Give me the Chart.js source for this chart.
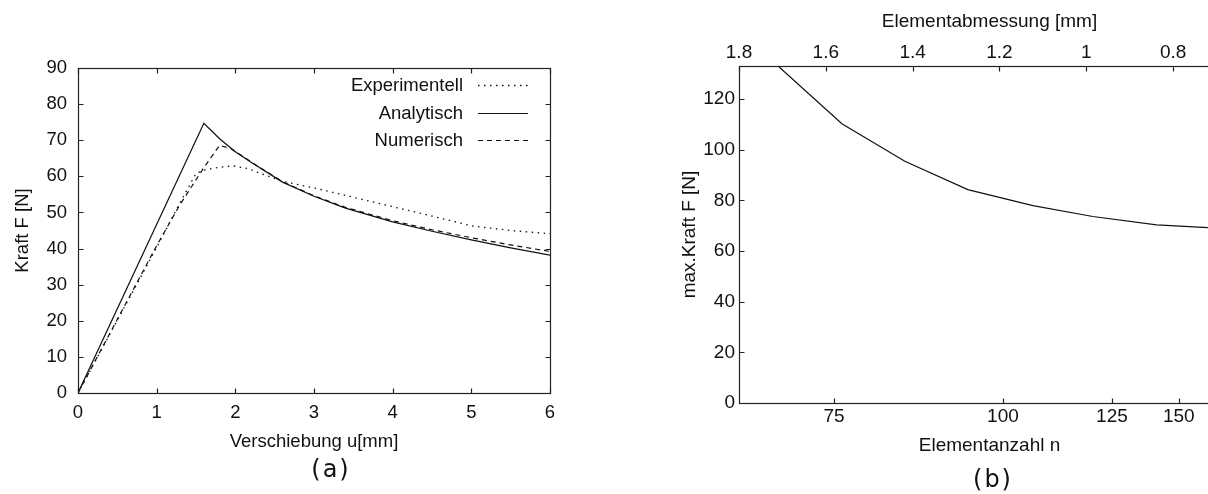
<!DOCTYPE html>
<html>
<head>
<meta charset="utf-8">
<script src="https://cdn.jsdelivr.net/npm/chart.js@4.4.1/dist/chart.umd.min.js"></script>
<style>
  html, body { margin: 0; padding: 0; background: #fff; overflow: hidden; width: 1208px; height: 494px; }
  #kraftWeg { position: absolute; left: 0; top: 0; }
  #konvergenz { position: absolute; left: 604px; top: 0; }
</style>
</head>
<body>
<canvas id="kraftWeg" width="600" height="494"></canvas>
<canvas id="konvergenz" width="640" height="494"></canvas>
<script>
// (a) Kraft-Verschiebungs-Kurven
const expU = [0, 1.0, 1.27, 1.5, 1.63, 1.8, 1.97, 2.15, 2.31, 2.6, 3.0, 3.5, 4.0, 4.5, 5.0, 5.5, 6.0];
const expF = [0, 40.3, 51.6, 60.8, 61.9, 62.5, 62.9, 62.2, 60.9, 58.6, 56.8, 54.2, 51.6, 49.0, 46.3, 45.0, 44.1];

const anaU = [0, 1.6, 1.8, 2.0, 2.2, 2.6, 3.0, 3.4, 4.0, 4.5, 5.0, 5.5, 6.0];
const anaF = [0, 74.7, 70.4, 66.8, 63.9, 58.4, 54.5, 51.2, 47.4, 44.8, 42.4, 40.2, 38.2];

const numU = [0, 1.0, 1.3, 1.6, 1.8, 1.95, 2.2, 2.6, 3.0, 3.4, 4.0, 4.5, 5.0, 5.5, 6.0];
const numF = [0, 40.8, 52.3, 62.4, 68.6, 67.6, 64.0, 58.5, 54.6, 51.4, 47.7, 45.2, 43.0, 41.0, 39.2];

const uTicks = [0, 1, 2, 3, 4, 5, 6];
const fTicks = [0, 10, 20, 30, 40, 50, 60, 70, 80, 90];

// (b) Konvergenzstudie
const elementGroesse = [1.71, 1.563, 1.418, 1.273, 1.123, 0.985, 0.838, 0.720];
const maxKraft = [133, 110.2, 95.4, 84.2, 77.9, 73.6, 70.3, 69.2];

const groesseTicks = [1.8, 1.6, 1.4, 1.2, 1.0, 0.8];
const anzahlLabels = ["75", "100", "125", "150"];
const anzahlTickPos = [1.581, 1.192, 0.941, 0.787];   // Lage der n-Ticks auf der mm-Achse
const kraftTicksB = [0, 20, 40, 60, 80, 100, 120];

const schrift = "'Liberation Sans', Arial, sans-serif";

function punkte(xs, ys) {
    return xs.map((x, i) => ({ x: x, y: ys[i] }));
}

function setzeTicks(werte) {
    return function (scale) {
        scale.ticks = werte.map((v) => ({ value: v }));
    };
}

// Rahmen mit nach innen zeigenden Ticks (gnuplot-Stil)
const rahmenPlugin = {
    id: "rahmen",
    afterDatasetsDraw(chart, args, opts) {
        const ctx = chart.ctx;
        const a = chart.chartArea;
        const l = Math.round(a.left) + 0.5, r = Math.round(a.right) + 0.5;
        const t = Math.round(a.top) + 0.5, b = Math.round(a.bottom) + 0.5;
        ctx.save();
        ctx.strokeStyle = "#222";
        ctx.lineWidth = 1.2;
        ctx.strokeRect(l, t, r - l, b - t);
        const len = 5;
        ctx.beginPath();
        opts.marken.forEach((m) => {
            const s = chart.scales[m.scale];
            s.ticks.forEach((tk) => {
                const p = Math.round(s.getPixelForValue(tk.value)) + 0.5;
                if (m.seite === "bottom") { ctx.moveTo(p, b); ctx.lineTo(p, b - len); }
                if (m.seite === "top") { ctx.moveTo(p, t); ctx.lineTo(p, t + len); }
                if (m.seite === "left") { ctx.moveTo(l, p); ctx.lineTo(l + len, p); }
                if (m.seite === "right") { ctx.moveTo(r, p); ctx.lineTo(r - len, p); }
            });
        });
        ctx.stroke();
        ctx.restore();
    }
};

// Legende wie bei gnuplot: Text rechtsbuendig, Linienmuster rechts daneben
const legendePlugin = {
    id: "legende",
    afterDatasetsDraw(chart, args, opts) {
        if (!opts.zeigen) return;
        const ctx = chart.ctx;
        ctx.save();
        ctx.font = opts.font;
        ctx.fillStyle = "#111";
        ctx.textAlign = "right";
        ctx.textBaseline = "middle";
        chart.data.datasets.forEach((ds, i) => {
            const y = Math.round(opts.oben + i * opts.zeile) + 0.5;
            ctx.fillText(ds.label, opts.textRechts, y);
            ctx.setLineDash(ds.borderDash || []);
            ctx.lineWidth = ds.borderWidth;
            ctx.strokeStyle = ds.borderColor;
            ctx.beginPath();
            ctx.moveTo(opts.linieVon, y);
            ctx.lineTo(opts.linieBis, y);
            ctx.stroke();
        });
        ctx.restore();
    }
};

// Bildunterschrift (a) / (b)
const unterschriftPlugin = {
    id: "unterschrift",
    afterDraw(chart, args, opts) {
        const ctx = chart.ctx;
        ctx.save();
        ctx.font = "24px 'DejaVu Sans', sans-serif";
        ctx.letterSpacing = "2px";
        ctx.fillStyle = "#111";
        ctx.textAlign = "center";
        ctx.textBaseline = "middle";
        ctx.fillText(opts.text, opts.x, opts.y);
        ctx.restore();
    }
};

Chart.register(rahmenPlugin, legendePlugin, unterschriftPlugin);

const tickFontA = { family: schrift, size: 18.5 };
const tickFontB = { family: schrift, size: 19 };
const ohneGitter = { display: false, drawTicks: false };

new Chart(document.getElementById("kraftWeg").getContext("2d"), {
    type: "line",
    data: {
        datasets: [
            {
                label: "Experimentell",
                data: punkte(expU, expF),
                borderColor: "#111",
                borderWidth: 1.3,
                borderDash: [1.5, 4.5],
                pointRadius: 0,
                tension: 0
            },
            {
                label: "Analytisch",
                data: punkte(anaU, anaF),
                borderColor: "#111",
                borderWidth: 1.2,
                pointRadius: 0,
                tension: 0
            },
            {
                label: "Numerisch",
                data: punkte(numU, numF),
                borderColor: "#111",
                borderWidth: 1.2,
                borderDash: [5, 4],
                pointRadius: 0,
                tension: 0
            }
        ]
    },
    options: {
        responsive: false,
        animation: false,
        devicePixelRatio: 1,
        layout: { padding: { left: 10, right: 50, top: 68, bottom: 40 } },
        plugins: {
            legend: { display: false },
            tooltip: { enabled: false },
            rahmen: {
                marken: [
                    { scale: "x", seite: "bottom" }, { scale: "x", seite: "top" },
                    { scale: "y", seite: "left" }, { scale: "y", seite: "right" }
                ]
            },
            legende: {
                zeigen: true,
                font: "18.5px " + schrift,
                oben: 85, zeile: 27.5,
                textRechts: 463, linieVon: 478, linieBis: 528
            },
            unterschrift: { text: "(a)", x: 331, y: 471 }
        },
        scales: {
            x: {
                type: "linear",
                min: 0,
                max: 6,
                afterBuildTicks: setzeTicks(uTicks),
                afterFit(s) { s.height = 61; },
                grid: ohneGitter,
                border: { display: false },
                ticks: { font: tickFontA, color: "#111", padding: 9, maxRotation: 0, autoSkip: false },
                title: {
                    display: true,
                    text: "Verschiebung u[mm]",
                    font: tickFontA,
                    color: "#111",
                    padding: { top: 0, bottom: 1 }
                }
            },
            y: {
                type: "linear",
                min: 0,
                max: 90,
                afterBuildTicks: setzeTicks(fTicks),
                afterFit(s) { s.width = 68; },
                grid: ohneGitter,
                border: { display: false },
                ticks: { font: tickFontA, color: "#111", padding: 11, autoSkip: false },
                title: {
                    display: true,
                    text: "Kraft F [N]",
                    font: tickFontA,
                    color: "#111",
                    padding: { top: 2, bottom: 0 }
                }
            }
        }
    }
});

new Chart(document.getElementById("konvergenz").getContext("2d"), {
    type: "line",
    data: {
        datasets: [
            {
                label: "max. Kraft",
                data: punkte(elementGroesse, maxKraft),
                xAxisID: "x",
                yAxisID: "y",
                borderColor: "#111",
                borderWidth: 1.2,
                pointRadius: 0,
                tension: 0
            }
        ]
    },
    options: {
        responsive: false,
        animation: false,
        devicePixelRatio: 1,
        layout: { padding: { left: 70, right: 4, top: 0, bottom: 35 } },
        plugins: {
            legend: { display: false },
            tooltip: { enabled: false },
            rahmen: {
                marken: [
                    { scale: "x", seite: "top" },
                    { scale: "xn", seite: "bottom" },
                    { scale: "y", seite: "left" }
                ]
            },
            legende: { zeigen: false },
            unterschrift: { text: "(b)", x: 389, y: 481 }
        },
        scales: {
            x: {
                type: "linear",
                position: "top",
                reverse: true,
                min: 0.646,
                max: 1.8,
                afterBuildTicks: setzeTicks(groesseTicks),
                afterFit(s) { s.height = 66; },
                grid: ohneGitter,
                border: { display: false },
                ticks: {
                    font: tickFontB,
                    color: "#111",
                    padding: 2,
                    maxRotation: 0,
                    autoSkip: false,
                    callback: (wert) => String(wert)
                },
                title: {
                    display: true,
                    text: "Elementabmessung [mm]",
                    font: tickFontB,
                    color: "#111",
                    padding: { top: 10, bottom: 0 }
                }
            },
            xn: {
                type: "linear",
                position: "bottom",
                reverse: true,
                min: 0.646,
                max: 1.8,
                afterBuildTicks: setzeTicks(anzahlTickPos),
                afterFit(s) { s.height = 56; },
                grid: ohneGitter,
                border: { display: false },
                ticks: {
                    font: tickFontB,
                    color: "#111",
                    padding: 2,
                    maxRotation: 0,
                    autoSkip: false,
                    callback: (wert, i) => anzahlLabels[i]
                },
                title: {
                    display: true,
                    text: "Elementanzahl n",
                    font: tickFontB,
                    color: "#111",
                    padding: { top: 0, bottom: 2 }
                }
            },
            y: {
                type: "linear",
                min: 0,
                max: 133,
                afterBuildTicks: setzeTicks(kraftTicksB),
                afterFit(s) { s.width = 65; },
                grid: ohneGitter,
                border: { display: false },
                ticks: { font: tickFontB, color: "#111", padding: 4, autoSkip: false },
                title: {
                    display: true,
                    text: "max.Kraft F [N]",
                    font: tickFontB,
                    color: "#111",
                    padding: { top: 4, bottom: 0 }
                }
            }
        }
    }
});
</script>
</body>
</html>
